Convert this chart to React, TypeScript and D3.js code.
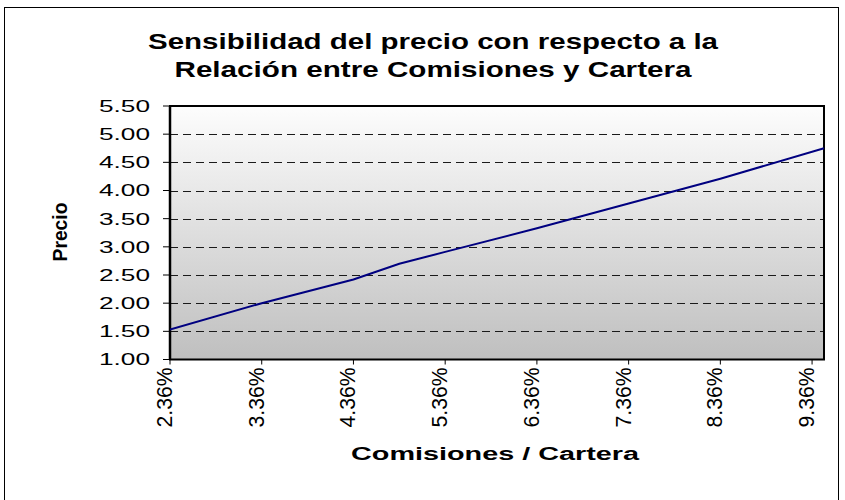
import React from "react";
import * as d3 from "d3";

const xPct: number[] = [2.36, 3.36, 4.36, 4.86, 5.36, 6.36, 7.36, 8.36, 9.49];
const precio: number[] = [1.53, 2.0, 2.42, 2.7, 2.91, 3.33, 3.77, 4.21, 4.75];
const yTicks: number[] = [1.0, 1.5, 2.0, 2.5, 3.0, 3.5, 4.0, 4.5, 5.0, 5.5];
const xTicks: number[] = [2.36, 3.36, 4.36, 5.36, 6.36, 7.36, 8.36, 9.36];
const titleLines: string[] = [
  "Sensibilidad del precio con respecto a la",
  "Relación entre Comisiones y Cartera",
];
const yTitle = "Precio";
const xTitle = "Comisiones / Cartera";

const W = 845;
const H = 500;
const plot = { left: 170, right: 824, top: 106, bottom: 359.5 };
const FONT = "'Liberation Sans', Arial, Helvetica, sans-serif";

export default function App() {
  const x = d3.scaleLinear().domain([2.36, 9.49]).range([plot.left, plot.right]);
  const y = d3.scaleLinear().domain([1, 5.5]).range([plot.bottom, plot.top]);
  const pts: [number, number][] = xPct.map((v, i) => [v, precio[i]]);
  const line = d3
    .line<[number, number]>()
    .x((d) => x(d[0]))
    .y((d) => y(d[1]));

  return (
    <svg
      width={W}
      height={H}
      style={{ position: "absolute", left: 0, top: 0, display: "block", background: "#fff" }}
    >
      <defs>
        <linearGradient id="bg" x1="0" y1="0" x2="0" y2="1">
          <stop offset="0%" stopColor="#fdfdfd" />
          <stop offset="100%" stopColor="#bfbfbf" />
        </linearGradient>
        <clipPath id="clip">
          <rect x={plot.left} y={plot.top - 2} width={plot.right - plot.left + 3} height={plot.bottom - plot.top + 4} />
        </clipPath>
      </defs>
      {/* outer frame */}
      <rect x={4.5} y={7.5} width={834} height={520} fill="#fff" stroke="#000" strokeWidth={1} />

      {/* titles */}
      <text x={433} y={49} textAnchor="middle" fontFamily={FONT} fontWeight="bold" fontSize={22.5}
        textLength={570} lengthAdjust="spacingAndGlyphs">{titleLines[0]}</text>
      <text x={433} y={77} textAnchor="middle" fontFamily={FONT} fontWeight="bold" fontSize={22.5}
        textLength={517} lengthAdjust="spacingAndGlyphs">{titleLines[1]}</text>

      {/* plot background */}
      <rect x={plot.left} y={plot.top} width={plot.right - plot.left} height={plot.bottom - plot.top} fill="url(#bg)" />

      {/* gridlines */}
      {yTicks
        .filter((t) => t > 1 && t < 5.5)
        .map((t) => (
          <line key={"g" + t} x1={plot.left} x2={plot.right} y1={Math.round(y(t)) + 0.5} y2={Math.round(y(t)) + 0.5}
            stroke="#1a1a1a" strokeWidth={1} strokeDasharray="8,5" />
        ))}

      {/* plot border */}
      <rect x={plot.left} y={plot.top} width={plot.right - plot.left} height={plot.bottom - plot.top}
        fill="none" stroke="#000" strokeWidth={2} />

      {/* y axis ticks and labels */}
      {yTicks.map((t) => (
        <g key={"y" + t}>
          <line x1={plot.left - 7} x2={plot.left} y1={y(t)} y2={y(t)} stroke="#000" strokeWidth={1} />
          <text x={150} y={y(t)} dy="0.36em" textAnchor="end" fontFamily={FONT} fontSize={16.5}
            textLength={51} lengthAdjust="spacingAndGlyphs">{t.toFixed(2)}</text>
        </g>
      ))}
      <line x1={plot.left} x2={plot.left} y1={plot.top} y2={plot.bottom} stroke="#000" strokeWidth={2.5} />

      {/* x axis ticks and labels */}
      {xTicks.map((t) => (
        <g key={"x" + t}>
          <line x1={x(t)} x2={x(t)} y1={plot.bottom} y2={plot.bottom + 5} stroke="#000" strokeWidth={1} />
          <text transform={`translate(${x(t) + 2},${plot.bottom + 8}) scale(1.35,1) rotate(-90)`}
            textAnchor="end" fontFamily={FONT} fontSize={16.5}
            textLength={60} lengthAdjust="spacingAndGlyphs">{t.toFixed(2) + "%"}</text>
        </g>
      ))}

      {/* data line */}
      <path d={line(pts) || ""} fill="none" stroke="#000080" strokeWidth={2} clipPath="url(#clip)" />

      {/* axis titles */}
      <text transform={`translate(67,232) scale(1.3,1) rotate(-90)`} textAnchor="middle" fontFamily={FONT}
        fontWeight="bold" fontSize={15} textLength={59} lengthAdjust="spacingAndGlyphs">{yTitle}</text>
      <text x={495} y={460} textAnchor="middle" fontFamily={FONT} fontWeight="bold" fontSize={18}
        textLength={288} lengthAdjust="spacingAndGlyphs">{xTitle}</text>
    </svg>
  );
}
